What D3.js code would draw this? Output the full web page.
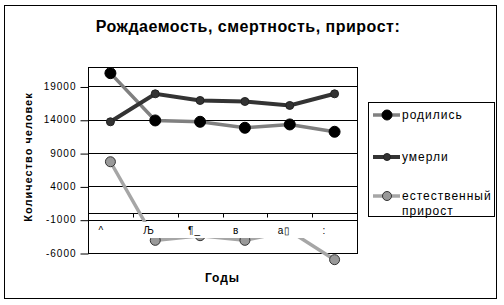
<!DOCTYPE html>
<html>
<head>
<meta charset="utf-8">
<script src="https://cdn.jsdelivr.net/npm/d3@7"></script>
<style>
  body { margin: 0; background: #fff; }
  text { font-family: "Liberation Sans", Arial, sans-serif; fill: #000; }
</style>
</head>
<body>
<svg width="504" height="305"></svg>
<script>
  // DATA
  const categories = ["^", "Љ", "¶_", "в", "а\u25AF", ":"];
  const born = [21000, 13900, 13700, 12800, 13300, 12200];
  const died = [13700, 17900, 16900, 16750, 16150, 17900];
  const growth = [7700, -4100, -3400, -4100, -2700, -7000];
  const yTicks = [-6000, -1000, 4000, 9000, 14000, 19000];
  const seriesNames = ["родились", "умерли", "естественный прирост"];

  const svg = d3.select("svg");

  // PLOT AREA
  const plot = { left: 88, right: 357, top: 67, bottom: 253 };

  const xScale = d3.scaleBand()
    .domain(categories)
    .range([plot.left, plot.right]);

  const yScale = d3.scaleLinear()
    .domain([-6000, 22000])
    .range([plot.bottom, plot.top - 0.5]);

  // OUTER FRAME
  svg.append("rect")
    .attr("x", 4.5).attr("y", 5.5)
    .attr("width", 492).attr("height", 293)
    .attr("fill", "#fff").attr("stroke", "#000");

  // TITLE
  svg.append("text")
    .attr("x", 248).attr("y", 32)
    .attr("text-anchor", "middle")
    .attr("font-size", 16).attr("font-weight", "bold")
    .attr("letter-spacing", 0.5)
    .text("Рождаемость, смертность, прирост:");

  // GRIDLINES + FRAME
  const g = svg.append("g");
  g.selectAll(".grid")
    .data(yTicks)
    .enter().append("line")
    .attr("x1", plot.left).attr("x2", plot.right)
    .attr("y1", (d) => Math.round(yScale(d)) + 0.5)
    .attr("y2", (d) => Math.round(yScale(d)) + 0.5)
    .attr("stroke", "#000");
  g.append("line")
    .attr("x1", plot.left).attr("x2", plot.right)
    .attr("y1", plot.top + 0.5).attr("y2", plot.top + 0.5)
    .attr("stroke", "#000");
  g.append("line")
    .attr("x1", plot.right + 0.5).attr("x2", plot.right + 0.5)
    .attr("y1", plot.top).attr("y2", plot.bottom + 1)
    .attr("stroke", "#000");

  // Y AXIS
  const yAxis = d3.axisLeft(yScale)
    .tickValues(yTicks)
    .tickSize(8)
    .tickPadding(4)
    .tickFormat((d) => String(d));
  const yAxisG = svg.append("g")
    .attr("transform", `translate(${plot.left + 0.5},0)`)
    .call(yAxis);
  yAxisG.select(".domain")
    .attr("d", `M0,${plot.top}V${plot.bottom + 1}`);
  yAxisG.selectAll(".tick line").attr("transform", "translate(0,0.5)");
  yAxisG.selectAll("text")
    .attr("font-size", 10)
    .attr("letter-spacing", 1)
    .attr("font-family", '"Liberation Sans", Arial, sans-serif')
    .attr("fill", "#000");

  // CATEGORY AXIS CROSSING AT ZERO
  const zeroY = Math.round(yScale(0)) + 0.5;
  g.append("line")
    .attr("x1", plot.left).attr("x2", plot.right)
    .attr("y1", zeroY).attr("y2", zeroY)
    .attr("stroke", "#000");
  g.selectAll(".xtick")
    .data(categories.slice(1))
    .enter().append("line")
    .attr("x1", (d) => Math.round(xScale(d)) + 0.5)
    .attr("x2", (d) => Math.round(xScale(d)) + 0.5)
    .attr("y1", zeroY).attr("y2", zeroY + 4)
    .attr("stroke", "#000");

  // SERIES
  const cx = (d, i) => xScale(categories[i]) + xScale.bandwidth() / 2;
  const series = [
    { name: seriesNames[0], values: born, line: "#808080", width: 3.5, fill: "#000", stroke: "#000", r: 5.5 },
    { name: seriesNames[1], values: died, line: "#333333", width: 4, fill: "#333", stroke: "#222", r: 4 },
    { name: seriesNames[2], values: growth, line: "#a6a6a6", width: 3.5, fill: "#999", stroke: "#333", r: 5 }
  ];

  const line = d3.line()
    .x(cx)
    .y((d) => yScale(d));

  series.forEach((s) => {
    const sg = svg.append("g");
    sg.append("path")
      .datum(s.values)
      .attr("d", line)
      .attr("fill", "none")
      .attr("stroke", s.line)
      .attr("stroke-width", s.width);
    sg.selectAll("circle")
      .data(s.values)
      .enter().append("circle")
      .attr("cx", cx)
      .attr("cy", (d) => yScale(d))
      .attr("r", s.r)
      .attr("fill", s.fill)
      .attr("stroke", s.stroke);
  });

  // CATEGORY LABELS (white boxes over the plot)
  svg.append("rect")
    .attr("x", plot.left + 1).attr("y", 222)
    .attr("width", plot.right - plot.left - 1).attr("height", 16)
    .attr("fill", "#fff");
  svg.selectAll(".xlabel")
    .data(categories)
    .enter().append("text")
    .attr("x", (d) => xScale(d) + xScale.bandwidth() / 2 - 12)
    .attr("y", 234)
    .attr("font-size", 10)
    .attr("letter-spacing", 1)
    .text((d) => d);

  // AXIS TITLES
  svg.append("text")
    .attr("x", (plot.left + plot.right) / 2).attr("y", 282)
    .attr("text-anchor", "middle")
    .attr("font-size", 12).attr("font-weight", "bold")
    .attr("letter-spacing", 1)
    .text("Годы");
  svg.append("text")
    .attr("transform", `translate(32,157) rotate(-90)`)
    .attr("text-anchor", "middle")
    .attr("font-size", 11).attr("font-weight", "bold")
    .attr("letter-spacing", 1)
    .text("Количество человек");

  // LEGEND
  const legend = svg.append("g");
  legend.append("rect")
    .attr("x", 368.5).attr("y", 102.5)
    .attr("width", 126).attr("height", 114)
    .attr("fill", "#fff").attr("stroke", "#000");
  const legendY = [115, 157, 196];
  series.forEach((s, i) => {
    const ly = legendY[i];
    legend.append("line")
      .attr("x1", 373).attr("x2", 400)
      .attr("y1", ly).attr("y2", ly)
      .attr("stroke", s.line).attr("stroke-width", s.width);
    legend.append("circle")
      .attr("cx", 387).attr("cy", ly)
      .attr("r", s.r - 0.5)
      .attr("fill", s.fill).attr("stroke", s.stroke);
  });
  legend.append("text").attr("x", 402).attr("y", 119)
    .attr("font-size", 12).attr("letter-spacing", 1).text(seriesNames[0]);
  legend.append("text").attr("x", 402).attr("y", 161)
    .attr("font-size", 12).attr("letter-spacing", 1).text(seriesNames[1]);
  legend.append("text").attr("x", 402).attr("y", 200)
    .attr("font-size", 12).attr("letter-spacing", 1).text("естественный");
  legend.append("text").attr("x", 402).attr("y", 215)
    .attr("font-size", 12).attr("letter-spacing", 1).text("прирост");
</script>
</body>
</html>
